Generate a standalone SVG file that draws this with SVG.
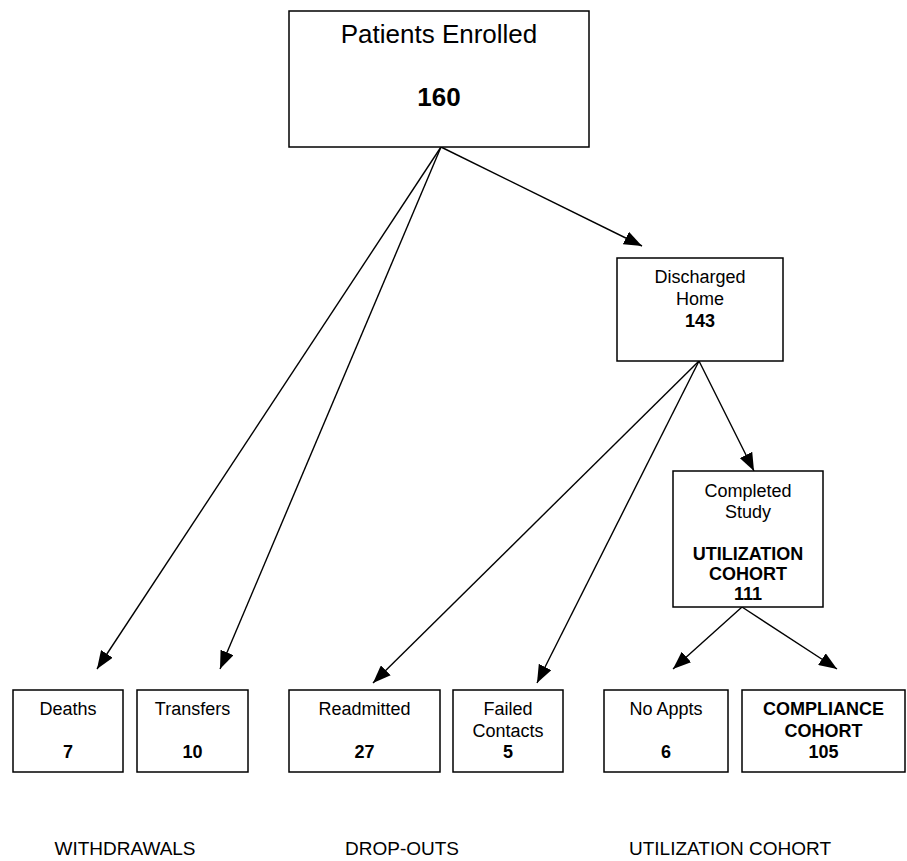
<svg xmlns="http://www.w3.org/2000/svg" width="907" height="861" viewBox="0 0 907 861">
<style>
.box{fill:#fff;stroke:#000;stroke-width:1.5}
.t{font-family:"Liberation Sans",Arial,sans-serif;font-size:18px;fill:#000;text-anchor:middle}
.b{font-weight:bold}
.big{font-size:26px}
.lbl{font-size:19px}
.c{stroke:#000;stroke-width:1.4;fill:none;marker-end:url(#ah)}
</style>
<defs>
<marker id="ah" viewBox="0 0 18 14" refX="18" refY="7" markerWidth="18" markerHeight="14" markerUnits="userSpaceOnUse" orient="auto">
<path d="M0,0 L18,7 L0,14 z" fill="#000"/>
</marker>
</defs>
<rect width="907" height="861" fill="#fff"/>
<g id="connectors">
<line class="c" x1="441" y1="147" x2="97" y2="669"/>
<line class="c" x1="441" y1="147" x2="220" y2="669"/>
<line class="c" x1="441" y1="147" x2="642" y2="246"/>
<line class="c" x1="699" y1="361" x2="373" y2="683"/>
<line class="c" x1="699" y1="361" x2="537" y2="683"/>
<line class="c" x1="699" y1="361" x2="754" y2="471"/>
<line class="c" x1="742" y1="607" x2="673" y2="669"/>
<line class="c" x1="742" y1="607" x2="837" y2="669"/>
</g>
<g id="enrolled">
<rect class="box" x="289" y="11" width="300" height="136"/>
<text class="t big" x="439" y="43">Patients Enrolled</text>
<text class="t big b" x="439" y="106">160</text>
</g>
<g id="discharged">
<rect class="box" x="617" y="258" width="166" height="103"/>
<text class="t" x="700" y="283">Discharged</text>
<text class="t" x="700" y="305">Home</text>
<text class="t b" x="700" y="327">143</text>
</g>
<g id="completed">
<rect class="box" x="673" y="471" width="150" height="136"/>
<text class="t" x="748" y="497">Completed</text>
<text class="t" x="748" y="518">Study</text>
<text class="t b" x="748" y="560">UTILIZATION</text>
<text class="t b" x="748" y="580">COHORT</text>
<text class="t b" x="748" y="600">111</text>
</g>
<g id="deaths">
<rect class="box" x="13" y="690" width="110" height="82"/>
<text class="t" x="68" y="715">Deaths</text>
<text class="t b" x="68" y="758">7</text>
</g>
<g id="transfers">
<rect class="box" x="137" y="690" width="111" height="82"/>
<text class="t" x="192.5" y="715">Transfers</text>
<text class="t b" x="192.5" y="758">10</text>
</g>
<g id="readmitted">
<rect class="box" x="289" y="690" width="151" height="82"/>
<text class="t" x="364.5" y="715">Readmitted</text>
<text class="t b" x="364.5" y="758">27</text>
</g>
<g id="failed">
<rect class="box" x="453" y="690" width="110" height="82"/>
<text class="t" x="508" y="715">Failed</text>
<text class="t" x="508" y="737">Contacts</text>
<text class="t b" x="508" y="758">5</text>
</g>
<g id="noappts">
<rect class="box" x="604" y="690" width="124" height="82"/>
<text class="t" x="666" y="715">No Appts</text>
<text class="t b" x="666" y="758">6</text>
</g>
<g id="compliance">
<rect class="box" x="742" y="690" width="163" height="82"/>
<text class="t b" x="823.5" y="715">COMPLIANCE</text>
<text class="t b" x="823.5" y="737">COHORT</text>
<text class="t b" x="823.5" y="758">105</text>
</g>
<g id="labels">
<text class="t lbl" x="125" y="855">WITHDRAWALS</text>
<text class="t lbl" x="402" y="855">DROP-OUTS</text>
<text class="t lbl" x="730" y="855">UTILIZATION COHORT</text>
</g>
</svg>
